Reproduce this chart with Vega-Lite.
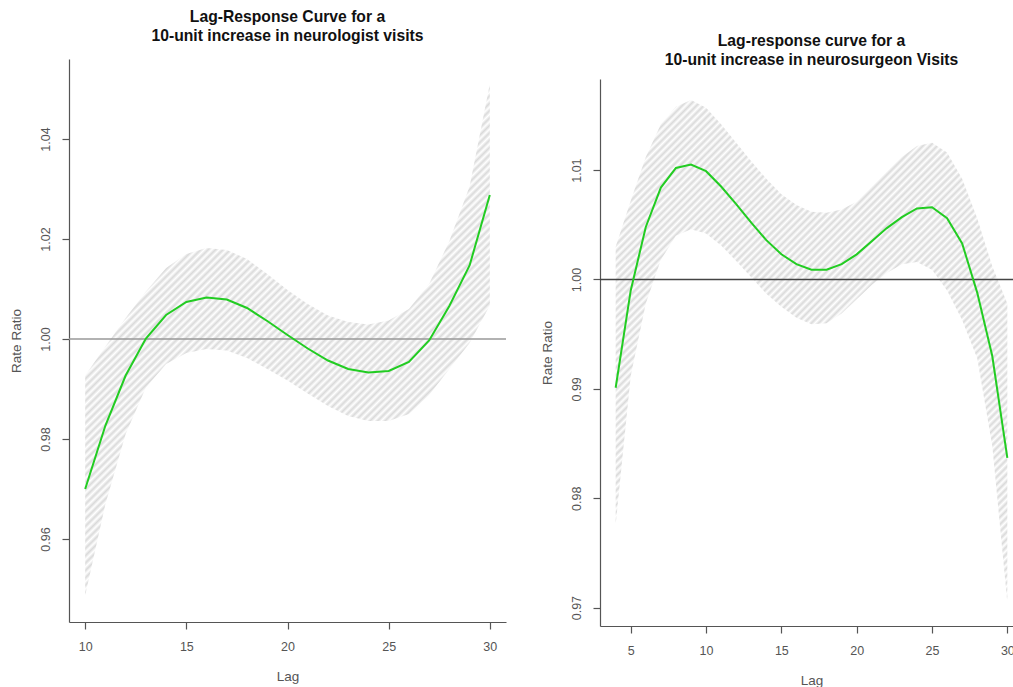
{
  "$schema": "https://vega.github.io/schema/vega-lite/v6.json",
  "background": "white",
  "padding": {"left": 9, "top": 9, "right": 0, "bottom": 0},
  "spacing": 33,
  "datasets": {
    "neuro": [
      {"lag": 10, "rr": 0.9700, "lo": 0.9487, "hi": 0.9927},
      {"lag": 11, "rr": 0.9827, "lo": 0.9670, "hi": 0.9985},
      {"lag": 12, "rr": 0.9927, "lo": 0.9810, "hi": 1.0042},
      {"lag": 13, "rr": 1.0001, "lo": 0.9903, "hi": 1.0095},
      {"lag": 14, "rr": 1.0048, "lo": 0.9950, "hi": 1.0142},
      {"lag": 15, "rr": 1.0074, "lo": 0.9972, "hi": 1.0170},
      {"lag": 16, "rr": 1.0083, "lo": 0.9980, "hi": 1.0182},
      {"lag": 17, "rr": 1.0079, "lo": 0.9977, "hi": 1.0178},
      {"lag": 18, "rr": 1.0062, "lo": 0.9962, "hi": 1.0160},
      {"lag": 19, "rr": 1.0036, "lo": 0.9940, "hi": 1.0130},
      {"lag": 20, "rr": 1.0008, "lo": 0.9917, "hi": 1.0098},
      {"lag": 21, "rr": 0.9981, "lo": 0.9891, "hi": 1.0070},
      {"lag": 22, "rr": 0.9957, "lo": 0.9866, "hi": 1.0047},
      {"lag": 23, "rr": 0.9940, "lo": 0.9846, "hi": 1.0034},
      {"lag": 24, "rr": 0.9933, "lo": 0.9836, "hi": 1.0029},
      {"lag": 25, "rr": 0.9936, "lo": 0.9836, "hi": 1.0037},
      {"lag": 26, "rr": 0.9954, "lo": 0.9850, "hi": 1.0060},
      {"lag": 27, "rr": 0.9997, "lo": 0.9888, "hi": 1.0110},
      {"lag": 28, "rr": 1.0066, "lo": 0.9940, "hi": 1.0196},
      {"lag": 29, "rr": 1.0147, "lo": 0.9992, "hi": 1.0305},
      {"lag": 30, "rr": 1.0288, "lo": 1.0067, "hi": 1.0510}
    ],
    "surg": [
      {"lag": 4, "rr": 0.9901, "lo": 0.9776, "hi": 1.0030},
      {"lag": 5, "rr": 0.9990, "lo": 0.9912, "hi": 1.0072},
      {"lag": 6, "rr": 1.0048, "lo": 0.9978, "hi": 1.0112},
      {"lag": 7, "rr": 1.0084, "lo": 1.0018, "hi": 1.0142},
      {"lag": 8, "rr": 1.0102, "lo": 1.0040, "hi": 1.0158},
      {"lag": 9, "rr": 1.0105, "lo": 1.0046, "hi": 1.0164},
      {"lag": 10, "rr": 1.0099, "lo": 1.0042, "hi": 1.0157},
      {"lag": 11, "rr": 1.0085, "lo": 1.0031, "hi": 1.0142},
      {"lag": 12, "rr": 1.0069, "lo": 1.0017, "hi": 1.0125},
      {"lag": 13, "rr": 1.0052, "lo": 1.0002, "hi": 1.0108},
      {"lag": 14, "rr": 1.0036, "lo": 0.9987, "hi": 1.0092},
      {"lag": 15, "rr": 1.0023, "lo": 0.9975, "hi": 1.0078},
      {"lag": 16, "rr": 1.0014, "lo": 0.9965, "hi": 1.0068},
      {"lag": 17, "rr": 1.0009, "lo": 0.9959, "hi": 1.0062},
      {"lag": 18, "rr": 1.0009, "lo": 0.9960, "hi": 1.0061},
      {"lag": 19, "rr": 1.0014, "lo": 0.9969, "hi": 1.0064},
      {"lag": 20, "rr": 1.0023, "lo": 0.9982, "hi": 1.0071},
      {"lag": 21, "rr": 1.0035, "lo": 0.9995, "hi": 1.0085},
      {"lag": 22, "rr": 1.0047, "lo": 1.0006, "hi": 1.0099},
      {"lag": 23, "rr": 1.0057, "lo": 1.0014, "hi": 1.0112},
      {"lag": 24, "rr": 1.0065, "lo": 1.0016, "hi": 1.0122},
      {"lag": 25, "rr": 1.0066, "lo": 1.0009, "hi": 1.0125},
      {"lag": 26, "rr": 1.0056, "lo": 0.9990, "hi": 1.0116},
      {"lag": 27, "rr": 1.0033, "lo": 0.9963, "hi": 1.0092},
      {"lag": 28, "rr": 0.9988, "lo": 0.9928, "hi": 1.0056},
      {"lag": 29, "rr": 0.9930, "lo": 0.9848, "hi": 1.0012},
      {"lag": 30, "rr": 0.9837, "lo": 0.9705, "hi": 0.9978}
    ]
  },
  "config": {
    "view": {"stroke": null},
    "font": "Liberation Sans",
    "area": {
      "color": {
        "gradient": "linear", "x1": 0, "y1": 0, "x2": 1, "y2": 1.275,
        "stops": [
          {"offset":0,"color":"#dadada"},{"offset":0.0035,"color":"#fff"},{"offset":0.007,"color":"#dadada"},{"offset":0.0105,"color":"#fff"},{"offset":0.014,"color":"#dadada"},{"offset":0.0175,"color":"#fff"},{"offset":0.021,"color":"#dadada"},{"offset":0.0245,"color":"#fff"},{"offset":0.028,"color":"#dadada"},{"offset":0.0315,"color":"#fff"},{"offset":0.035,"color":"#dadada"},{"offset":0.0385,"color":"#fff"},{"offset":0.042,"color":"#dadada"},{"offset":0.0455,"color":"#fff"},{"offset":0.049,"color":"#dadada"},{"offset":0.0525,"color":"#fff"},{"offset":0.056,"color":"#dadada"},{"offset":0.0595,"color":"#fff"},{"offset":0.063,"color":"#dadada"},{"offset":0.0665,"color":"#fff"},
          {"offset":0.07,"color":"#dadada"},{"offset":0.0735,"color":"#fff"},{"offset":0.077,"color":"#dadada"},{"offset":0.0805,"color":"#fff"},{"offset":0.084,"color":"#dadada"},{"offset":0.0875,"color":"#fff"},{"offset":0.091,"color":"#dadada"},{"offset":0.0945,"color":"#fff"},{"offset":0.098,"color":"#dadada"},{"offset":0.1015,"color":"#fff"},{"offset":0.105,"color":"#dadada"},{"offset":0.1085,"color":"#fff"},{"offset":0.112,"color":"#dadada"},{"offset":0.1155,"color":"#fff"},{"offset":0.119,"color":"#dadada"},{"offset":0.1225,"color":"#fff"},{"offset":0.126,"color":"#dadada"},{"offset":0.1295,"color":"#fff"},{"offset":0.133,"color":"#dadada"},{"offset":0.1365,"color":"#fff"},
          {"offset":0.14,"color":"#dadada"},{"offset":0.1435,"color":"#fff"},{"offset":0.147,"color":"#dadada"},{"offset":0.1505,"color":"#fff"},{"offset":0.154,"color":"#dadada"},{"offset":0.1575,"color":"#fff"},{"offset":0.161,"color":"#dadada"},{"offset":0.1645,"color":"#fff"},{"offset":0.168,"color":"#dadada"},{"offset":0.1715,"color":"#fff"},{"offset":0.175,"color":"#dadada"},{"offset":0.1785,"color":"#fff"},{"offset":0.182,"color":"#dadada"},{"offset":0.1855,"color":"#fff"},{"offset":0.189,"color":"#dadada"},{"offset":0.1925,"color":"#fff"},{"offset":0.196,"color":"#dadada"},{"offset":0.1995,"color":"#fff"},{"offset":0.203,"color":"#dadada"},{"offset":0.2065,"color":"#fff"},
          {"offset":0.21,"color":"#dadada"},{"offset":0.2135,"color":"#fff"},{"offset":0.217,"color":"#dadada"},{"offset":0.2205,"color":"#fff"},{"offset":0.224,"color":"#dadada"},{"offset":0.2275,"color":"#fff"},{"offset":0.231,"color":"#dadada"},{"offset":0.2345,"color":"#fff"},{"offset":0.238,"color":"#dadada"},{"offset":0.2415,"color":"#fff"},{"offset":0.245,"color":"#dadada"},{"offset":0.2485,"color":"#fff"},{"offset":0.252,"color":"#dadada"},{"offset":0.2555,"color":"#fff"},{"offset":0.259,"color":"#dadada"},{"offset":0.2625,"color":"#fff"},{"offset":0.266,"color":"#dadada"},{"offset":0.2695,"color":"#fff"},{"offset":0.273,"color":"#dadada"},{"offset":0.2765,"color":"#fff"},
          {"offset":0.28,"color":"#dadada"},{"offset":0.2835,"color":"#fff"},{"offset":0.287,"color":"#dadada"},{"offset":0.2905,"color":"#fff"},{"offset":0.294,"color":"#dadada"},{"offset":0.2975,"color":"#fff"},{"offset":0.301,"color":"#dadada"},{"offset":0.3045,"color":"#fff"},{"offset":0.308,"color":"#dadada"},{"offset":0.3115,"color":"#fff"},{"offset":0.315,"color":"#dadada"},{"offset":0.3185,"color":"#fff"},{"offset":0.322,"color":"#dadada"},{"offset":0.3255,"color":"#fff"},{"offset":0.329,"color":"#dadada"},{"offset":0.3325,"color":"#fff"},{"offset":0.336,"color":"#dadada"},{"offset":0.3395,"color":"#fff"},{"offset":0.343,"color":"#dadada"},{"offset":0.3465,"color":"#fff"},
          {"offset":0.35,"color":"#dadada"},{"offset":0.3535,"color":"#fff"},{"offset":0.357,"color":"#dadada"},{"offset":0.3605,"color":"#fff"},{"offset":0.364,"color":"#dadada"},{"offset":0.3675,"color":"#fff"},{"offset":0.371,"color":"#dadada"},{"offset":0.3745,"color":"#fff"},{"offset":0.378,"color":"#dadada"},{"offset":0.3815,"color":"#fff"},{"offset":0.385,"color":"#dadada"},{"offset":0.3885,"color":"#fff"},{"offset":0.392,"color":"#dadada"},{"offset":0.3955,"color":"#fff"},{"offset":0.399,"color":"#dadada"},{"offset":0.4025,"color":"#fff"},{"offset":0.406,"color":"#dadada"},{"offset":0.4095,"color":"#fff"},{"offset":0.413,"color":"#dadada"},{"offset":0.4165,"color":"#fff"},
          {"offset":0.42,"color":"#dadada"},{"offset":0.4235,"color":"#fff"},{"offset":0.427,"color":"#dadada"},{"offset":0.4305,"color":"#fff"},{"offset":0.434,"color":"#dadada"},{"offset":0.4375,"color":"#fff"},{"offset":0.441,"color":"#dadada"},{"offset":0.4445,"color":"#fff"},{"offset":0.448,"color":"#dadada"},{"offset":0.4515,"color":"#fff"},{"offset":0.455,"color":"#dadada"},{"offset":0.4585,"color":"#fff"},{"offset":0.462,"color":"#dadada"},{"offset":0.4655,"color":"#fff"},{"offset":0.469,"color":"#dadada"},{"offset":0.4725,"color":"#fff"},{"offset":0.476,"color":"#dadada"},{"offset":0.4795,"color":"#fff"},{"offset":0.483,"color":"#dadada"},{"offset":0.4865,"color":"#fff"},
          {"offset":0.49,"color":"#dadada"},{"offset":0.4935,"color":"#fff"},{"offset":0.497,"color":"#dadada"},{"offset":0.5005,"color":"#fff"},{"offset":0.504,"color":"#dadada"},{"offset":0.5075,"color":"#fff"},{"offset":0.511,"color":"#dadada"},{"offset":0.5145,"color":"#fff"},{"offset":0.518,"color":"#dadada"},{"offset":0.5215,"color":"#fff"},{"offset":0.525,"color":"#dadada"},{"offset":0.5285,"color":"#fff"},{"offset":0.532,"color":"#dadada"},{"offset":0.5355,"color":"#fff"},{"offset":0.539,"color":"#dadada"},{"offset":0.5425,"color":"#fff"},{"offset":0.546,"color":"#dadada"},{"offset":0.5495,"color":"#fff"},{"offset":0.553,"color":"#dadada"},{"offset":0.5565,"color":"#fff"},
          {"offset":0.56,"color":"#dadada"},{"offset":0.5635,"color":"#fff"},{"offset":0.567,"color":"#dadada"},{"offset":0.5705,"color":"#fff"},{"offset":0.574,"color":"#dadada"},{"offset":0.5775,"color":"#fff"},{"offset":0.581,"color":"#dadada"},{"offset":0.5845,"color":"#fff"},{"offset":0.588,"color":"#dadada"},{"offset":0.5915,"color":"#fff"},{"offset":0.595,"color":"#dadada"},{"offset":0.5985,"color":"#fff"},{"offset":0.602,"color":"#dadada"},{"offset":0.6055,"color":"#fff"},{"offset":0.609,"color":"#dadada"},{"offset":0.6125,"color":"#fff"},{"offset":0.616,"color":"#dadada"},{"offset":0.6195,"color":"#fff"},{"offset":0.623,"color":"#dadada"},{"offset":0.6265,"color":"#fff"},
          {"offset":0.63,"color":"#dadada"},{"offset":0.6335,"color":"#fff"},{"offset":0.637,"color":"#dadada"},{"offset":0.6405,"color":"#fff"},{"offset":0.644,"color":"#dadada"},{"offset":0.6475,"color":"#fff"},{"offset":0.651,"color":"#dadada"},{"offset":0.6545,"color":"#fff"},{"offset":0.658,"color":"#dadada"},{"offset":0.6615,"color":"#fff"},{"offset":0.665,"color":"#dadada"},{"offset":0.6685,"color":"#fff"},{"offset":0.672,"color":"#dadada"},{"offset":0.6755,"color":"#fff"},{"offset":0.679,"color":"#dadada"},{"offset":0.6825,"color":"#fff"},{"offset":0.686,"color":"#dadada"},{"offset":0.6895,"color":"#fff"},{"offset":0.693,"color":"#dadada"},{"offset":0.6965,"color":"#fff"},
          {"offset":0.7,"color":"#dadada"},{"offset":0.7035,"color":"#fff"},{"offset":0.707,"color":"#dadada"},{"offset":0.7105,"color":"#fff"},{"offset":0.714,"color":"#dadada"},{"offset":0.7175,"color":"#fff"},{"offset":0.721,"color":"#dadada"},{"offset":0.7245,"color":"#fff"},{"offset":0.728,"color":"#dadada"},{"offset":0.7315,"color":"#fff"},{"offset":0.735,"color":"#dadada"},{"offset":0.7385,"color":"#fff"},{"offset":0.742,"color":"#dadada"},{"offset":0.7455,"color":"#fff"},{"offset":0.749,"color":"#dadada"},{"offset":0.7525,"color":"#fff"},{"offset":0.756,"color":"#dadada"},{"offset":0.7595,"color":"#fff"},{"offset":0.763,"color":"#dadada"},{"offset":0.7665,"color":"#fff"},
          {"offset":0.77,"color":"#dadada"},{"offset":0.7735,"color":"#fff"},{"offset":0.777,"color":"#dadada"},{"offset":0.7805,"color":"#fff"},{"offset":0.784,"color":"#dadada"},{"offset":0.7875,"color":"#fff"},{"offset":0.791,"color":"#dadada"},{"offset":0.7945,"color":"#fff"},{"offset":0.798,"color":"#dadada"},{"offset":0.8015,"color":"#fff"},{"offset":0.805,"color":"#dadada"},{"offset":0.8085,"color":"#fff"},{"offset":0.812,"color":"#dadada"},{"offset":0.8155,"color":"#fff"},{"offset":0.819,"color":"#dadada"},{"offset":0.8225,"color":"#fff"},{"offset":0.826,"color":"#dadada"},{"offset":0.8295,"color":"#fff"},{"offset":0.833,"color":"#dadada"},{"offset":0.8365,"color":"#fff"},
          {"offset":0.84,"color":"#dadada"},{"offset":0.8435,"color":"#fff"},{"offset":0.847,"color":"#dadada"},{"offset":0.8505,"color":"#fff"},{"offset":0.854,"color":"#dadada"},{"offset":0.8575,"color":"#fff"},{"offset":0.861,"color":"#dadada"},{"offset":0.8645,"color":"#fff"}
        ]
      }
    },
    "title": {"font": "Liberation Sans", "fontSize": 15.7, "fontWeight": "bold", "color": "#111111", "lineHeight": 19, "offset": 14, "anchor": "middle"},
    "axis": {
      "grid": false,
      "domainColor": "#555555", "tickColor": "#555555", "labelColor": "#555555", "titleColor": "#555555",
      "domainWidth": 1.2, "tickWidth": 1.2, "tickSize": 7,
      "labelFont": "Liberation Sans", "labelFontSize": 12.5,
      "titleFont": "Liberation Sans", "titleFontSize": 13.5, "titleFontWeight": "normal",
      "labelFlush": false, "labelOverlap": false, "labelBound": false
    },
    "axisY": {"labelAngle": 270, "labelAlign": "center", "labelBaseline": "bottom", "labelPadding": 10, "titlePadding": 16},
    "axisX": {"labelPadding": 11, "titlePadding": 17}
  },
  "hconcat": [
    {
      "width": 437,
      "height": 563,
      "title": {"text": ["Lag-Response Curve for a", "10-unit increase in neurologist visits"]},
      "layer": [
        {
          "data": {"name": "neuro"},
          "mark": {"type": "area"},
          "encoding": {
            "x": {"field": "lag", "type": "quantitative", "scale": {"domain": [9.2, 30.8], "nice": false, "zero": false}, "axis": {"values": [10, 15, 20, 25, 30], "title": "Lag"}},
            "y": {"field": "lo", "type": "quantitative", "scale": {"domain": [0.9434, 1.056], "nice": false, "zero": false}, "axis": {"values": [0.96, 0.98, 1.0, 1.02, 1.04], "format": ".2f", "title": "Rate Ratio"}},
            "y2": {"field": "hi"}
          }
        },
        {
          "data": {"values": [{"ref": 1}]},
          "mark": {"type": "rule", "color": "#999999", "strokeWidth": 1.6},
          "encoding": {"y": {"field": "ref", "type": "quantitative"}}
        },
        {
          "data": {"name": "neuro"},
          "mark": {"type": "line", "color": "#22cc22", "strokeWidth": 2},
          "encoding": {
            "x": {"field": "lag", "type": "quantitative"},
            "y": {"field": "rr", "type": "quantitative"}
          }
        }
      ]
    },
    {
      "title": {"text": ["Lag-response curve for a", "10-unit increase in neurosurgeon Visits"], "offset": -10, "frame": "group", "anchor": "start", "align": "center", "dx": 211.5},
      "spacing": 19,
      "vconcat": [
        {
          "width": 423,
          "height": 1,
          "data": {"values": []},
          "mark": {"type": "point", "opacity": 0},
          "encoding": {}
        },
        {
          "width": 423,
          "height": 547,
          "layer": [
            {
              "data": {"name": "surg"},
              "mark": {"type": "area"},
              "encoding": {
                "x": {"field": "lag", "type": "quantitative", "scale": {"domain": [2.96, 31.04], "nice": false, "zero": false}, "axis": {"values": [5, 10, 15, 20, 25, 30], "title": "Lag"}},
                "y": {"field": "lo", "type": "quantitative", "scale": {"domain": [0.96832, 1.01833], "nice": false, "zero": false}, "axis": {"values": [0.97, 0.98, 0.99, 1.0, 1.01], "format": ".2f", "title": "Rate Ratio"}},
                "y2": {"field": "hi"}
              }
            },
            {
              "data": {"values": [{"ref": 1}]},
              "mark": {"type": "rule", "color": "#444444", "strokeWidth": 1.6},
              "encoding": {"y": {"field": "ref", "type": "quantitative"}}
            },
            {
              "data": {"name": "surg"},
              "mark": {"type": "line", "color": "#22cc22", "strokeWidth": 2},
              "encoding": {
                "x": {"field": "lag", "type": "quantitative"},
                "y": {"field": "rr", "type": "quantitative"}
              }
            }
          ]
        }
      ]
    }
  ]
}
